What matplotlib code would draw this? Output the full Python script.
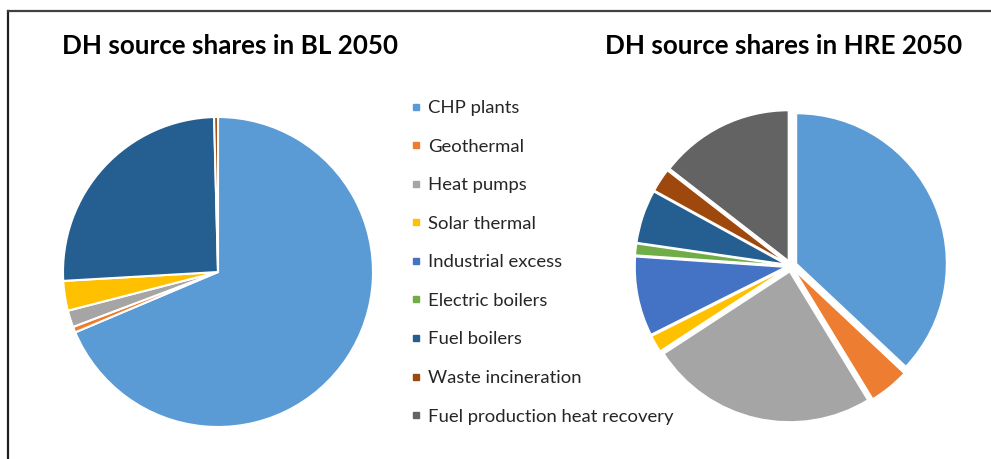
import matplotlib
matplotlib.use("Agg")
import matplotlib.pyplot as plt
from matplotlib.lines import Line2D

categories = ["CHP plants", "Geothermal", "Heat pumps", "Solar thermal",
              "Industrial excess", "Electric boilers", "Fuel boilers",
              "Waste incineration", "Fuel production heat recovery"]
colors = ["#5B9BD5", "#ED7D31", "#A5A5A5", "#FFC000", "#4472C4",
          "#70AD47", "#255E91", "#9E480E", "#636363"]
bl_2050 = [68.6, 0.6, 1.75, 3.1, 0.0, 0.0, 25.5, 0.4, 0.0]
hre_2050 = [37.0, 4.3, 24.5, 1.8, 8.5, 1.2, 5.7, 2.5, 14.5]
titles = ["DH source shares in BL 2050", "DH source shares in HRE 2050"]

W, H = 991, 459
plt.rcParams['font.family'] = ['Lato', 'DejaVu Sans']
fig = plt.figure(figsize=(W / 100, H / 100), dpi=100)


def pie_axes(cx, cy, half):
    ax = fig.add_axes([(cx - half) / W, (H - cy - half) / H, 2 * half / W, 2 * half / H])
    ax.set_aspect('equal')
    ax.axis('off')
    return ax


# left pie
ax1 = pie_axes(218, 272, 175)
vals = [v for v in bl_2050 if v > 0]
cols = [c for v, c in zip(bl_2050, colors) if v > 0]
ax1.pie(vals, colors=cols, startangle=90, counterclock=False, radius=1,
        wedgeprops=dict(edgecolor='white', linewidth=1.5))
ax1.set_xlim(-175 / 155, 175 / 155)
ax1.set_ylim(-175 / 155, 175 / 155)

# right pie
ax2 = pie_axes(791, 266, 175)
ax2.pie(hre_2050, colors=colors, startangle=90, counterclock=False, radius=1,
        explode=[0.04] * len(hre_2050),
        wedgeprops=dict(edgecolor='white', linewidth=1.0))
ax2.set_xlim(-175 / 150, 175 / 150)
ax2.set_ylim(-175 / 150, 175 / 150)

# titles
fig.text(62 / W, 1 - 46 / H, titles[0], fontsize=18.7, fontweight='bold',
         ha='left', va='center', color='#000000')
fig.text(962 / W, 1 - 46 / H, titles[1], fontsize=18.7, fontweight='bold',
         ha='right', va='center', color='#000000')

# legend
handles = [Line2D([0], [0], marker='s', linestyle='none', markersize=4.5,
                  markerfacecolor=c, markeredgecolor=c) for c in colors]
leg = fig.legend(handles, categories, loc='upper left',
                 bbox_to_anchor=(401 / W, 1 - 91 / H), frameon=False,
                 fontsize=13.3, handlelength=0.6, handletextpad=0.35,
                 labelspacing=1.22, borderpad=0)
for t in leg.get_texts():
    t.set_color('#262626')

# border (top and left)
fig.add_artist(Line2D([8 / W, 8 / W], [0, 1 - 10.5 / H], color='#202020', lw=1.6,
                      transform=fig.transFigure))
fig.add_artist(Line2D([8 / W, 1], [1 - 10.5 / H, 1 - 10.5 / H], color='#404040', lw=1.6,
                      transform=fig.transFigure))

fig.savefig("out.png", dpi=100)
